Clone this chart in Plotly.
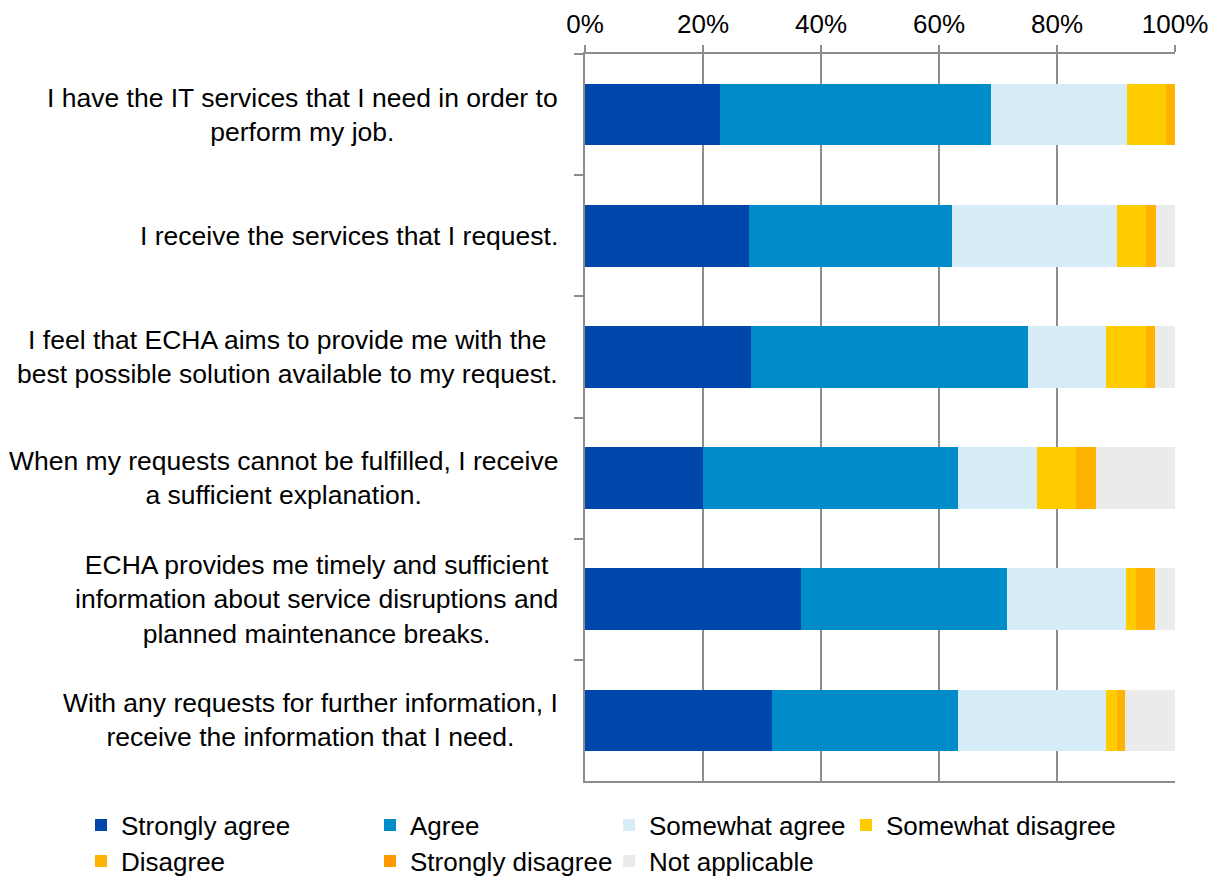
import plotly.graph_objects as go

# Survey statements (top to bottom) and answer shares in percent.
statements = [
    "I have the IT services that I need in order to<br>perform my job.",
    "I receive the services that I request.",
    "I feel that ECHA aims to provide me with the<br>best possible solution available to my request.",
    "When my requests cannot be fulfilled, I receive<br>a sufficient explanation.",
    "ECHA provides me timely and sufficient<br>information about service disruptions and<br>planned maintenance breaks.",
    "With any requests for further information, I<br>receive the information that I need.",
]

strongly_agree = [22.9, 27.8, 28.1, 20.0, 36.6, 31.7]
agree = [45.9, 34.4, 47.0, 43.2, 34.9, 31.5]
somewhat_agree = [23.1, 28.0, 13.2, 13.4, 20.2, 25.1]
somewhat_disagree = [6.5, 4.9, 6.7, 6.6, 1.7, 1.8]
disagree = [1.6, 1.7, 1.6, 3.4, 3.2, 1.5]
strongly_disagree = [0, 0, 0, 0, 0, 0]
not_applicable = [0, 3.2, 3.4, 13.4, 3.4, 8.4]

series = [
    ("Strongly agree", strongly_agree, "#0047AB"),
    ("Agree", agree, "#008BC9"),
    ("Somewhat agree", somewhat_agree, "#D6EDF8"),
    ("Somewhat disagree", somewhat_disagree, "#FFCC00"),
    ("Disagree", disagree, "#FFB300"),
    ("Strongly disagree", strongly_disagree, "#FF9900"),
    ("Not applicable", not_applicable, "#EBEBEB"),
]

FONT = "Liberation Sans, Arial, sans-serif"

# page has an 8px body margin, so work in figure pixels
OFF = 8
W, H = 1205, 876
L, R, T, B = 585 - OFF, 1175 - OFF, 54 - OFF, 781 - OFF

# Legend slots in page pixels: (left edge, row centre)
legend_pos = [(81, 825), (370, 825), (609, 825), (846, 825),
              (81, 861), (370, 861), (609, 861)]

fig = go.Figure()
layout_legends = {}
for i, (name, vals, color) in enumerate(series):
    key = "legend" if i == 0 else f"legend{i + 1}"
    fig.add_trace(go.Bar(
        y=statements, x=vals, name=name, orientation="h",
        marker_color=color, marker_line_width=0,
        legend=key,
        hovertemplate=name + ": %{x:.1f}%<extra></extra>",
    ))
    px_x, px_y = legend_pos[i][0] - OFF, legend_pos[i][1] - OFF
    layout_legends[key] = dict(
        x=(px_x - L) / (R - L), y=(B - px_y) / (B - T),
        xanchor="left", yanchor="middle",
        font=dict(family=FONT, size=26, color="#000000"),
        bgcolor="rgba(0,0,0,0)", itemwidth=30,
    )

# Category labels as centred multi-line text to the left of the plot
for s in statements:
    fig.add_annotation(
        x=(560 - OFF - L) / (R - L), xref="paper", xanchor="right",
        y=s, yref="y", yanchor="middle",
        text=s, showarrow=False, align="center",
        font=dict(family=FONT, size=26.5, color="#000000"),
    )

fig.update_layout(
    barmode="stack", bargap=0.49,
    width=W, height=H,
    margin=dict(l=L, r=W - R, t=T, b=H - B, autoexpand=False),
    plot_bgcolor="white", paper_bgcolor="white",
    font=dict(family=FONT, size=26, color="#000000"),
    showlegend=True,
    **layout_legends,
)

fig.update_xaxes(
    side="top", range=[0, 100], dtick=20, ticksuffix="%",
    showgrid=True, gridcolor="#8C8C8C", gridwidth=2,
    showline=True, linecolor="#8C8C8C", linewidth=2, mirror=True,
    ticks="outside", ticklen=7, tickcolor="#8C8C8C", tickwidth=2,
    ticklabelstandoff=2, automargin=False,
    tickfont=dict(family=FONT, size=26, color="#000000"),
    zeroline=False, fixedrange=True,
)
fig.update_yaxes(
    autorange="reversed", showticklabels=False,
    showline=True, linecolor="#8C8C8C", linewidth=2,
    ticks="outside", tickson="boundaries", ticklen=9,
    tickcolor="#8C8C8C", tickwidth=2, automargin=False,
    showgrid=False, fixedrange=True,
)

fig.write_html("out.html")
